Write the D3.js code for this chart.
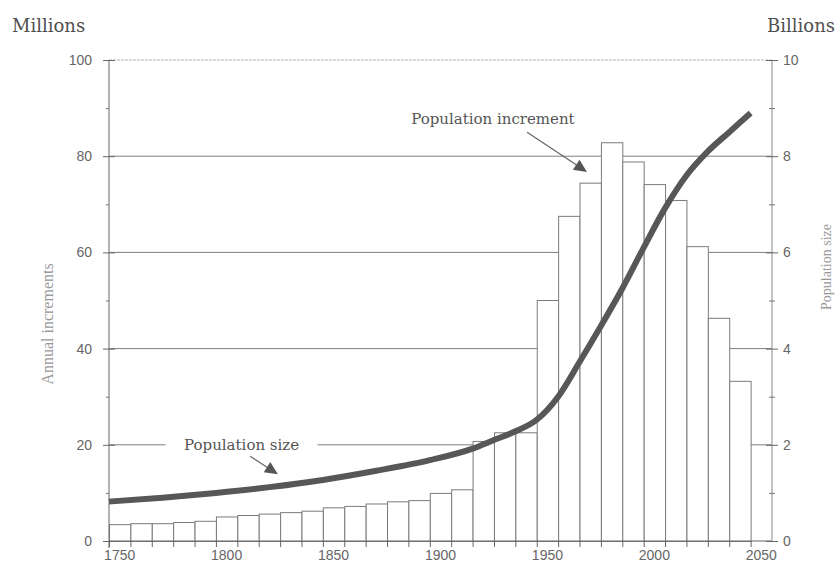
<!DOCTYPE html>
<html>
<head>
<meta charset="utf-8">
<script src="https://cdn.jsdelivr.net/npm/d3@7"></script>
<style>
  body { margin: 0; background: #fff; }
  svg { display: block; }
</style>
</head>
<body>
<div id="chart"></div>
<script>
// Annual increments (millions), one bar per decade
const barYears = [1750, 1760, 1770, 1780, 1790, 1800, 1810, 1820, 1830, 1840,
                  1850, 1860, 1870, 1880, 1890, 1900, 1910, 1920, 1930, 1940,
                  1950, 1960, 1970, 1980, 1990, 2000, 2010, 2020, 2030, 2040];
const increments = [3.5, 3.7, 3.7, 3.95, 4.2, 5.1, 5.4, 5.7, 6.0, 6.3,
                    7.0, 7.3, 7.8, 8.25, 8.5, 10.0, 10.75, 20.8, 22.6, 22.6,
                    50.1, 67.6, 74.5, 82.9, 78.9, 74.2, 70.9, 61.3, 46.4, 33.3];

// Population size (billions)
const popYears = [1750, 1775, 1800, 1825, 1850, 1875, 1900, 1920, 1930, 1940,
                  1950, 1960, 1970, 1980, 1990, 2000, 2010, 2020, 2030, 2040, 2050];
const popSize = [0.82, 0.9, 1.0, 1.12, 1.27, 1.46, 1.68, 1.92, 2.1, 2.28,
                 2.52, 3.0, 3.72, 4.47, 5.25, 6.1, 6.92, 7.6, 8.1, 8.5, 8.9];

const axisYears = d3.range(1750, 2051, 10);
const labelYears = [1750, 1800, 1850, 1900, 1950, 2000, 2050];
const leftTicks = [0, 20, 40, 60, 80, 100];
const leftMinor = [10, 30, 50, 70, 90];
const rightTicks = [0, 2, 4, 6, 8, 10];
const rightMinor = [1, 3, 5, 7, 9];

const W = 836, H = 568;
const margin = { top: 60, right: 64, bottom: 27, left: 109 };
const width = W - margin.left - margin.right;
const height = H - margin.top - margin.bottom;

const sans = '"Liberation Sans", Arial, sans-serif';
const serif = '"DejaVu Serif", "Liberation Serif", serif';

const svg = d3.select('#chart').append('svg')
  .attr('width', W).attr('height', H);

const g = svg.append('g')
  .attr('transform', `translate(${margin.left},${margin.top})`);

// Scales
const xBand = d3.scaleBand()
  .domain(axisYears)
  .range([0, width])
  .padding(0);

const xLine = d3.scaleLinear()
  .domain([1750, 2050])
  .range([xBand(1750), xBand(2050)]);

const yLeft = d3.scaleLinear().domain([0, 100]).range([height, 0]);
const yRight = d3.scaleLinear().domain([0, 10]).range([height, 0]);

// Grid
g.append('g').attr('class', 'grid')
  .selectAll('line')
  .data([20, 40, 60, 80])
  .join('line')
  .attr('x1', 0).attr('x2', width)
  .attr('y1', d => yLeft(d)).attr('y2', d => yLeft(d))
  .attr('stroke', '#7e7e7e').attr('stroke-width', 1);

g.append('line')
  .attr('x1', 0).attr('x2', width)
  .attr('y1', yLeft(100)).attr('y2', yLeft(100))
  .attr('stroke', '#b5b5b5').attr('stroke-width', 1)
  .attr('stroke-dasharray', '3,1');

// Bars
g.selectAll('.bar')
  .data(barYears)
  .join('rect')
  .attr('class', 'bar')
  .attr('x', d => xBand(d) + 0.5)
  .attr('y', (d, i) => yLeft(increments[i]) + 0.5)
  .attr('width', xBand.bandwidth())
  .attr('height', (d, i) => height - yLeft(increments[i]))
  .attr('fill', '#fff')
  .attr('stroke', '#7a7a7a')
  .attr('stroke-width', 1);

// Axes lines
g.append('line')
  .attr('x1', 0).attr('x2', width)
  .attr('y1', height).attr('y2', height)
  .attr('stroke', '#666');
g.append('line')
  .attr('x1', 0).attr('x2', 0)
  .attr('y1', 0).attr('y2', height + 7)
  .attr('stroke', '#666');
g.append('line')
  .attr('x1', width).attr('x2', width)
  .attr('y1', 0).attr('y2', height)
  .attr('stroke', '#888');

// Left axis
const leftAxis = g.append('g')
  .call(d3.axisLeft(yLeft).tickValues(leftTicks).tickSize(6).tickPadding(11));
leftAxis.select('.domain').remove();
leftAxis.selectAll('line').attr('stroke', '#666').attr('x2', 6).attr('x1', -6);
leftAxis.selectAll('text')
  .attr('font-family', sans).attr('font-size', '14px').attr('fill', '#666');

g.append('g')
  .call(d3.axisLeft(yLeft).tickValues(leftMinor).tickSize(3).tickFormat(''))
  .call(a => a.select('.domain').remove())
  .selectAll('line').attr('stroke', '#777');

// Right axis
const rightAxis = g.append('g')
  .attr('transform', `translate(${width},0)`)
  .call(d3.axisRight(yRight).tickValues(rightTicks).tickSize(6).tickPadding(5));
rightAxis.select('.domain').remove();
rightAxis.selectAll('line').attr('stroke', '#666').attr('x1', -6);
rightAxis.selectAll('text')
  .attr('font-family', sans).attr('font-size', '14px').attr('fill', '#666');

g.append('g')
  .attr('transform', `translate(${width},0)`)
  .call(d3.axisRight(yRight).tickValues(rightMinor).tickSize(3).tickFormat(''))
  .call(a => a.select('.domain').remove())
  .selectAll('line').attr('stroke', '#777').attr('x1', -3);

// Bottom axis: ticks at band edges, labels at band centres
g.append('g')
  .attr('transform', `translate(0,${height})`)
  .call(d3.axisBottom(xLine).tickValues(axisYears).tickSize(6).tickFormat(''))
  .call(a => a.select('.domain').remove())
  .selectAll('line').attr('stroke', '#666');

const bottomAxis = g.append('g')
  .attr('transform', `translate(0,${height})`)
  .call(d3.axisBottom(xBand).tickValues(labelYears).tickSize(0).tickPadding(9));
bottomAxis.select('.domain').remove();
bottomAxis.selectAll('text')
  .attr('font-family', sans).attr('font-size', '14px').attr('fill', '#666');

// Population size curve
const line = d3.line()
  .x((d, i) => xLine(popYears[i]))
  .y(d => yRight(d))
  .curve(d3.curveMonotoneX);

g.append('path')
  .datum(popSize)
  .attr('d', line)
  .attr('fill', 'none')
  .attr('stroke', '#575757')
  .attr('stroke-width', 6);

// Annotations
function arrow(x1, y1, x2, y2) {
  const ang = Math.atan2(y2 - y1, x2 - x1);
  const len = 13, half = 6;
  const bx = x2 - len * Math.cos(ang), by = y2 - len * Math.sin(ang);
  g.append('line')
    .attr('x1', x1).attr('y1', y1).attr('x2', bx).attr('y2', by)
    .attr('stroke', '#666').attr('stroke-width', 1.2);
  g.append('path')
    .attr('d', `M${x2},${y2}L${bx + half * Math.sin(ang)},${by - half * Math.cos(ang)}L${bx - half * Math.sin(ang)},${by + half * Math.cos(ang)}Z`)
    .attr('fill', '#555');
}

// "Population size" label breaks the 20 grid line
const psX = xLine(1812), psY = yLeft(20);
g.append('rect')
  .attr('x', psX - 76).attr('y', psY - 4)
  .attr('width', 152).attr('height', 8)
  .attr('fill', '#fff');
g.append('text')
  .attr('x', psX).attr('y', psY + 5)
  .attr('text-anchor', 'middle')
  .attr('font-family', serif).attr('font-size', '15px').attr('fill', '#555')
  .text('Population size');
arrow(xLine(1816), yLeft(17.6), xLine(1829), yLeft(13.9));

g.append('text')
  .attr('x', xLine(1929.5)).attr('y', yLeft(86.6))
  .attr('text-anchor', 'middle')
  .attr('font-family', serif).attr('font-size', '15px').attr('fill', '#555')
  .text('Population increment');
arrow(xLine(1945.5), yLeft(85), xLine(1973.5), yLeft(76.7));

// Unit labels
svg.append('text')
  .attr('x', 12).attr('y', 32)
  .attr('font-family', serif).attr('font-size', '18px').attr('fill', '#505050')
  .text('Millions');
svg.append('text')
  .attr('x', 835).attr('y', 32)
  .attr('text-anchor', 'end')
  .attr('font-family', serif).attr('font-size', '18px').attr('fill', '#505050')
  .text('Billions');

// Axis titles
svg.append('text')
  .attr('transform', `translate(53,${324}) rotate(-90)`)
  .attr('text-anchor', 'middle')
  .attr('font-family', '"Liberation Serif", serif').attr('font-size', '16px').attr('fill', '#999')
  .text('Annual increments');
svg.append('text')
  .attr('transform', `translate(831,${267}) rotate(-90)`)
  .attr('text-anchor', 'middle')
  .attr('font-family', '"Liberation Serif", serif').attr('font-size', '14px').attr('fill', '#999')
  .text('Population size');
</script>
</body>
</html>
